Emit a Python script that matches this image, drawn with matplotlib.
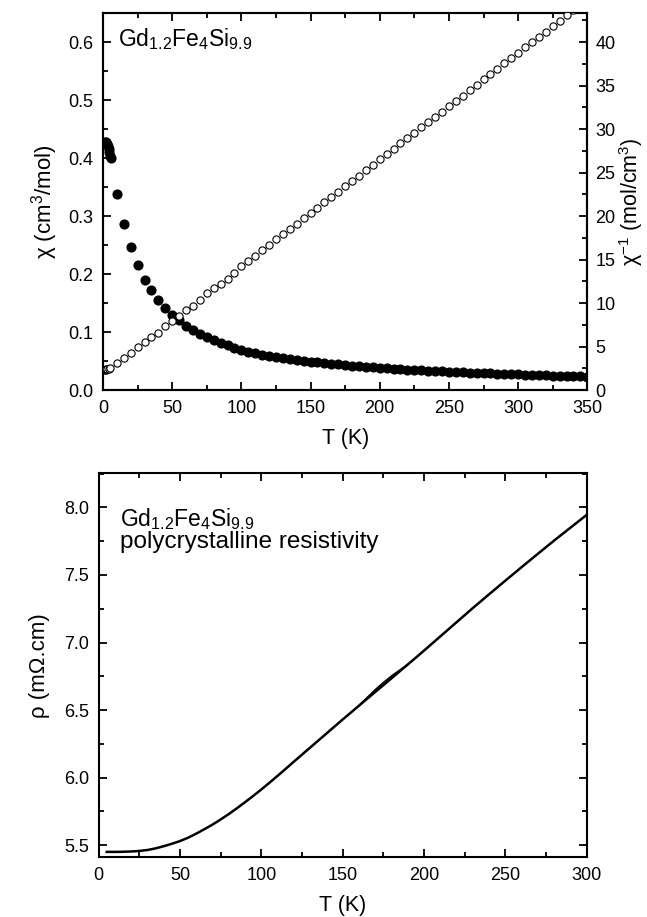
import matplotlib
matplotlib.use('Agg')
import matplotlib.pyplot as plt
from matplotlib.ticker import MultipleLocator, FormatStrFormatter

plt.rcParams['font.family'] = ['Liberation Sans', 'DejaVu Sans']
plt.rcParams['mathtext.fontset'] = 'custom'
plt.rcParams['mathtext.rm'] = 'Liberation Sans'
plt.rcParams['mathtext.it'] = 'Liberation Sans'
plt.rcParams['mathtext.default'] = 'regular'

# susceptibility (filled circles, left axis)
t_chi = [1.8, 2.0, 2.5, 3.0, 3.5, 4.0, 4.5, 5.0, 5.5,
         10, 15, 20, 25, 30, 35, 40, 45, 50, 55, 60, 65, 70, 75, 80, 85, 90, 95,
         100, 105, 110, 115, 120, 125, 130, 135, 140, 145, 150, 155, 160, 165, 170, 175,
         180, 185, 190, 195, 200, 205, 210, 215, 220, 225, 230, 235, 240, 245, 250,
         255, 260, 265, 270, 275, 280, 285, 290, 295, 300, 305, 310, 315, 320, 325,
         330, 335, 340, 345, 350]
chi = [0.427, 0.427, 0.426, 0.424, 0.420, 0.415, 0.410, 0.404, 0.400,
       0.338, 0.287, 0.247, 0.215, 0.190, 0.172, 0.156, 0.142, 0.130, 0.120, 0.111,
       0.103, 0.097, 0.091, 0.086, 0.081, 0.077, 0.073,
       0.069, 0.066, 0.064, 0.061, 0.059, 0.057, 0.055, 0.053, 0.052, 0.050, 0.049,
       0.048, 0.046, 0.045, 0.044, 0.043, 0.042, 0.041, 0.040, 0.039, 0.038, 0.0375,
       0.0368, 0.036, 0.0353, 0.0346, 0.034, 0.0334, 0.0328, 0.0322, 0.0316, 0.031,
       0.0305, 0.030, 0.0295, 0.029, 0.0285, 0.028, 0.0276, 0.0272, 0.0268, 0.0264,
       0.026, 0.0256, 0.0252, 0.0248, 0.0245, 0.0242, 0.0238, 0.0235, 0.0232]

# inverse susceptibility (open circles, right axis)
t_inv = [1.8, 2.0, 2.5, 3.0, 4.0, 5.0,
         10, 15, 20, 25, 30, 35, 40, 45, 50, 55, 60, 65, 70, 75, 80, 85, 90, 95,
         100, 105, 110, 115, 120, 125, 130, 135, 140, 145, 150, 155, 160, 165, 170, 175,
         180, 185, 190, 195, 200, 205, 210, 215, 220, 225, 230, 235, 240, 245, 250,
         255, 260, 265, 270, 275, 280, 285, 290, 295, 300, 305, 310, 315, 320, 325,
         330, 335, 340]
chi_inv = [2.35, 2.35, 2.38, 2.40, 2.45, 2.55,
           3.1, 3.7, 4.3, 5.0, 5.5, 6.05, 6.6, 7.3, 7.9, 8.55, 9.15, 9.7, 10.3, 11.1,
           11.7, 12.2, 12.8, 13.5,
           14.2, 14.8, 15.45, 16.05, 16.65, 17.3, 17.9, 18.5, 19.1, 19.75, 20.35,
           20.95, 21.6, 22.2, 22.8, 23.4, 24.05, 24.65, 25.25, 25.9, 26.5, 27.1,
           27.7, 28.35, 28.95, 29.55, 30.2, 30.8, 31.4, 32.0, 32.65, 33.25, 33.85,
           34.45, 35.1, 35.7, 36.3, 36.9, 37.55, 38.15, 38.75, 39.4, 40.0, 40.6,
           41.2, 41.85, 42.45, 43.05, 43.65]

# resistivity, warming branch
t_rho = [5, 10, 15, 20, 25, 30, 35, 40, 45, 50, 55, 60, 65, 70, 75, 80, 85, 90, 95,
         100, 105, 110, 115, 120, 125, 130, 135, 140, 145, 150, 155, 160, 165, 170,
         175, 180, 185, 190, 195, 200, 210, 220, 230, 240, 250, 260, 270, 280, 290,
         300]
rho = [5.450, 5.450, 5.451, 5.453, 5.457, 5.464, 5.476, 5.492, 5.510, 5.530, 5.555,
       5.585, 5.618, 5.652, 5.690, 5.730, 5.773, 5.818, 5.864,
       5.912, 5.962, 6.013, 6.065, 6.118, 6.170, 6.222, 6.274, 6.326, 6.378, 6.430,
       6.481, 6.532, 6.583, 6.634, 6.684, 6.735, 6.786, 6.837, 6.888, 6.940,
       7.045, 7.150, 7.255, 7.357, 7.458, 7.558, 7.657, 7.755, 7.850, 7.945]
# resistivity, cooling branch around the small loop near 175 K
t_loop = [190, 185, 180, 175, 170, 165, 160]
rho_loop = [6.837, 6.795, 6.752, 6.703, 6.650, 6.592, 6.532]

fig = plt.figure(figsize=(6.47, 9.17), dpi=100)
fig.set(facecolor='white')


def style(ax, xmaj, xmin, ymaj, ymin, right=True):
    ax.xaxis.set_major_locator(MultipleLocator(xmaj))
    ax.xaxis.set_minor_locator(MultipleLocator(xmin))
    ax.yaxis.set_major_locator(MultipleLocator(ymaj))
    ax.yaxis.set_minor_locator(MultipleLocator(ymin))
    ax.tick_params(which='both', direction='in', top=True, right=right, width=1.3,
                   labelsize=13)
    ax.tick_params(which='major', length=6)
    ax.tick_params(which='minor', length=3.5)
    ax.tick_params(axis='x', which='major', pad=7)
    ax.tick_params(axis='y', which='major', pad=7)
    for s in ax.spines.values():
        s.set_linewidth(1.5)


# top panel
ax1 = fig.add_axes([0.1592, 0.5747, 0.7485, 0.4111])
ax1.plot(t_chi, chi, 'o', color='black', markersize=6.3, zorder=3)
ax1.set_xlim(0, 350)
ax1.set_ylim(0, 0.65)
style(ax1, 50, 25, 0.1, 0.05, right=False)
ax1.yaxis.set_major_formatter(FormatStrFormatter('%.1f'))
ax1.set_xlabel('T (K)', fontsize=15.5, labelpad=8)
ax1.set_ylabel('χ (cm$^3$/mol)', fontsize=16, labelpad=6)
ax1.text(0.031, 0.965, 'Gd$_{1.2}$Fe$_4$Si$_{9.9}$', transform=ax1.transAxes,
         fontsize=16.5, va='top', ha='left')

ax2 = ax1.twinx()
ax2.plot(t_inv, chi_inv, 'o', markerfacecolor='white', markeredgecolor='black',
         markeredgewidth=0.8, markersize=5.2, zorder=4, clip_on=True)
ax2.set_ylim(0, 0.65 / 0.6 * 40)
ax2.yaxis.set_major_locator(MultipleLocator(5))
ax2.yaxis.set_minor_locator(MultipleLocator(2.5))
ax2.tick_params(which='both', direction='in', width=1.3, labelsize=13)
ax2.tick_params(which='major', length=6, pad=6)
ax2.tick_params(which='minor', length=3.5)
ax2.set_ylabel('χ$^{-1}$ (mol/cm$^3$)', fontsize=15.5, rotation=90, labelpad=1)
for s in ax2.spines.values():
    s.set_linewidth(1.5)

# bottom panel
ax3 = fig.add_axes([0.1524, 0.0651, 0.7544, 0.4191])
ax3.plot(t_rho, rho, color='black', linewidth=1.8)
ax3.plot(t_loop, rho_loop, color='black', linewidth=1.2)
ax3.set_xlim(0, 300)
ax3.set_ylim(5.41, 8.255)
style(ax3, 50, 25, 0.5, 0.25)
ax3.yaxis.set_major_formatter(FormatStrFormatter('%.1f'))
ax3.set_xlabel('T (K)', fontsize=15.5, labelpad=8)
ax3.set_ylabel('ρ (mΩ.cm)', fontsize=16, labelpad=10)
ax3.text(0.044, 0.915, 'Gd$_{1.2}$Fe$_4$Si$_{9.9}$',
         transform=ax3.transAxes, fontsize=16.5, va='top', ha='left')
ax3.text(0.044, 0.848, 'polycrystalline resistivity',
         transform=ax3.transAxes, fontsize=17.5, va='top', ha='left')

plt.savefig('out.png', dpi=100)
